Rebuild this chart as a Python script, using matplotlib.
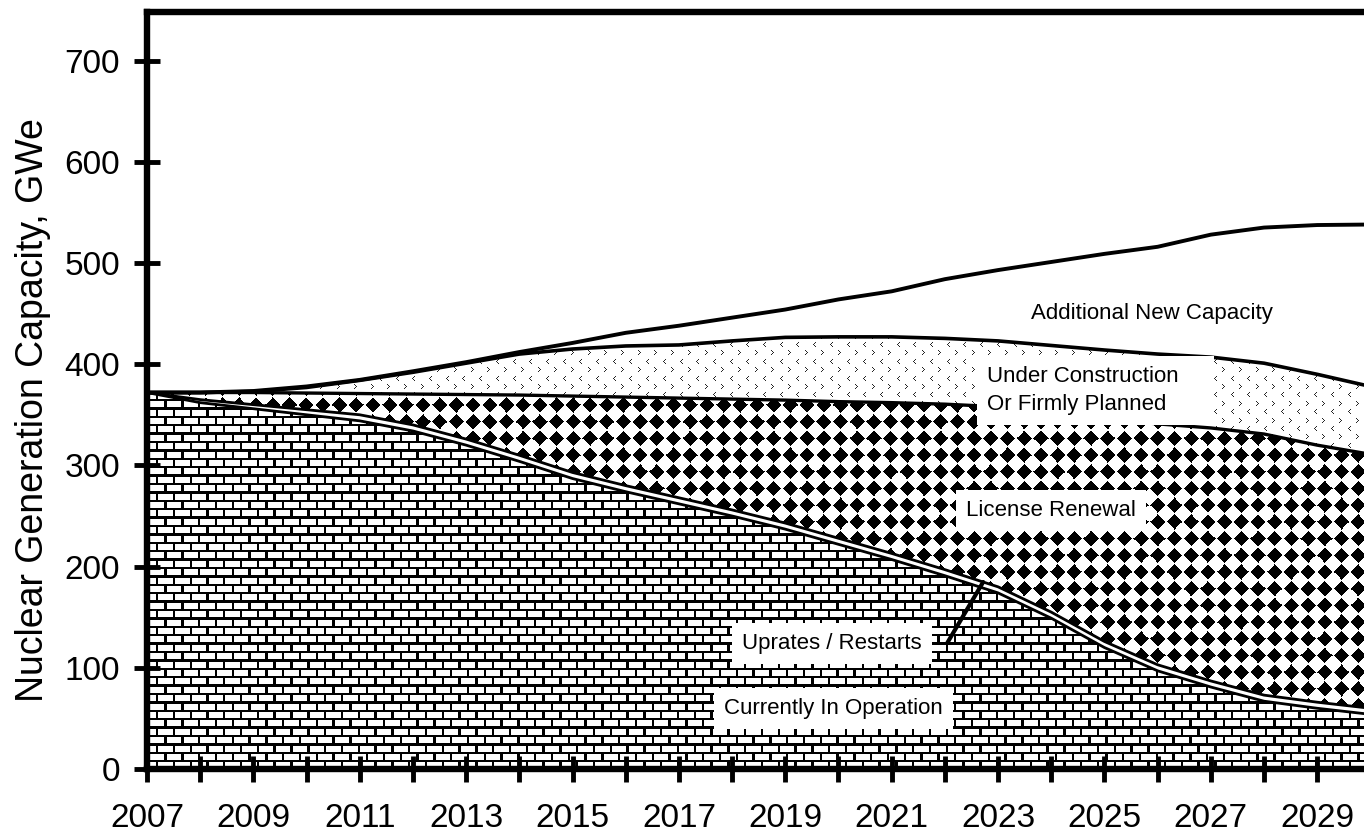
import numpy as np
import matplotlib
matplotlib.use('Agg')
import matplotlib.pyplot as plt

plt.rcParams['font.family'] = ['Liberation Sans', 'DejaVu Sans']

# values (GWe, cumulative boundaries)
years = np.arange(2007, 2031)
current_op = [372, 362, 356, 350, 344, 334, 320, 304, 287, 274, 262, 250,
              237, 222, 207, 191, 174, 149, 120, 97, 81, 67, 60, 54]
uprates = [0, 3, 4, 5, 6, 6, 6, 6, 6, 6, 6, 6,
           6, 6, 6, 6, 6, 6, 6, 6, 6, 6, 6, 6]
license_top = [372, 372, 372, 371.5, 371, 370.5, 370, 369.5, 368.5, 367.5, 366.5, 365.5,
               364.5, 363, 362, 360.5, 358, 352, 346, 341, 337, 331, 320, 311]
construction_top = [372, 372, 373, 377, 384, 392, 401, 410, 415, 418, 419, 423,
                    426.5, 427, 427, 425.5, 423, 418.5, 414, 410, 407, 401, 390, 378]
total_top = [372, 372, 373.5, 378, 384.5, 393, 402, 412, 421, 431, 438, 446,
             454, 464, 472, 484, 493, 501, 509, 516, 528, 535, 537.5, 538]

year_labels = [str(y) if (y - 2007) % 2 == 0 else '' for y in years]
y_ticks = [0, 100, 200, 300, 400, 500, 600, 700]

uprates_top = np.array(current_op) + np.array(uprates)

fig = plt.figure(figsize=(13.64, 8.36), dpi=100)
W, H = 1250, 757
ax = fig.add_axes([147 / 1364, 67 / 836, W / 1364, H / 836])
x0, x1 = 2007, 2030.5
y0, y1 = 0, 748

# pixel textures
yy, xx = np.mgrid[0:H, 0:W].astype(float)

# bricks
py, px = 8.4, 16.8
row = np.floor(yy / py)
ry = yy - row * py
rx = (xx + (row % 2) * px / 2) % px
bricks = np.where((ry < 2.2) | (rx < 2.4), 0.0, 1.0)

# diamonds
p = 16.7
dx = np.abs((xx % p) - p / 2)
dy = np.abs((yy % p) - p / 2)
diamonds = np.where(dx ** 0.95 + dy ** 0.95 <= 7.8 ** 0.95, 0.0, 1.0)

# little chevrons
cy, cx = 8.4, 16.7
crow = np.floor(yy / cy)
ly = np.floor(yy - crow * cy)
lx = np.floor((xx + (crow % 2) * cx / 2) % cx)
right = (crow % 2 == 0)
c1 = ((lx == 6) & ((ly == 2) | (ly == 6))) | ((lx == 7) & ((ly == 3) | (ly == 5))) | ((lx == 8) & (ly == 4))
c2 = ((lx == 8) & ((ly == 2) | (ly == 6))) | ((lx == 7) & ((ly == 3) | (ly == 5))) | ((lx == 6) & (ly == 4))
chevrons = np.where((right & c1) | (~right & c2), 0.15, 1.0)


def layer(lower, upper, texture):
    coll = ax.fill_between(years, lower, upper, facecolor='white',
                           edgecolor='none', zorder=1)
    if texture is not None:
        im = ax.imshow(texture, extent=(x0, x1, y0, y1), cmap='gray', vmin=0, vmax=1,
                       aspect='auto', interpolation='nearest', zorder=1.5)
        im.set_clip_path(coll.get_paths()[0], transform=ax.transData)


layer(0, current_op, bricks)
layer(current_op, uprates_top, None)
layer(uprates_top, license_top, diamonds)
layer(license_top, construction_top, chevrons)

ax.plot(years, total_top, color='k', lw=2.8, zorder=3)
ax.plot(years, construction_top, color='k', lw=2.6, zorder=3)
ax.plot(years, license_top, color='k', lw=2.4, zorder=3)
ax.plot(years, uprates_top, color='k', lw=2.0, zorder=3)
ax.plot(years, current_op, color='k', lw=2.0, zorder=3)

box = dict(boxstyle='square,pad=0.45', facecolor='white', edgecolor='none')
ax.text(2025.9, 450, 'Additional New Capacity', fontsize=16, ha='center', va='center', zorder=5)
ax.text(2022.8, 374, 'Under Construction    \nOr Firmly Planned', fontsize=16,
        ha='left', va='center', linespacing=1.4, bbox=box, zorder=5)
ax.text(2024.0, 255, 'License Renewal', fontsize=16, ha='center', va='center', bbox=box, zorder=5)
ax.text(2019.88, 124.5, 'Uprates / Restarts', fontsize=16, ha='center', va='center', bbox=box, zorder=5)
ax.text(2019.9, 60, 'Currently In Operation', fontsize=16, ha='center', va='center', bbox=box, zorder=5)
ax.annotate('', xy=(2022.72, np.interp(2022.72, years, uprates_top)), xytext=(2022.05, 125),
            arrowprops=dict(arrowstyle='-', lw=3, color='k', shrinkA=0, shrinkB=0), zorder=6)

ax.set_xlim(x0, x1)
ax.set_ylim(y0, y1)
ax.set_xticks(years)
ax.set_xticklabels(year_labels)
ax.set_yticks(y_ticks)
ax.tick_params(direction='inout', length=19, width=3.5, labelsize=24, colors='k')
ax.tick_params(axis='x', pad=15)
ax.tick_params(axis='y', pad=10)
for s in ['left', 'bottom', 'top']:
    ax.spines[s].set_linewidth(4.6)
ax.spines['right'].set_visible(False)

ax.set_ylabel('Nuclear Generation Capacity, GWe', fontsize=27, va='center')
ax.yaxis.set_label_coords(-0.0912, 0.474)

fig.savefig('out.png', dpi=100, facecolor='white')
